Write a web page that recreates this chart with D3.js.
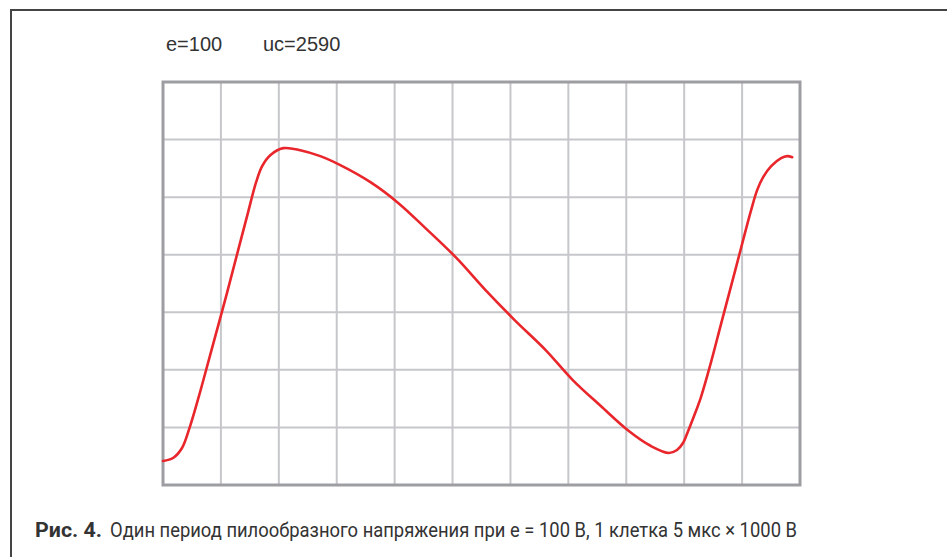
<!DOCTYPE html>
<html>
<head>
<meta charset="utf-8">
<script src="https://cdn.jsdelivr.net/npm/d3@7"></script>
<style>
  body { margin: 0; background: #fff; }
  svg { display: block; }
</style>
</head>
<body>
<svg width="947" height="557"></svg>
<script>
// time in microseconds (1 cell = 5 us), voltage in volts (1 cell = 1000 V)
var timeUs = [0, 0.87, 1.64, 2.34, 3.2, 4.07, 5.36, 6.49, 7.35, 8.04, 8.56, 9.26, 10.38, 11.85, 13.58, 15.31, 17.91, 20.33, 22.66, 25.35, 27.85, 30.36, 33.04, 35.38, 37.8, 40.22, 42.13, 43.69, 44.38, 44.9, 45.24, 45.85, 46.45, 47.32, 48.18, 49.48, 50.78, 51.3, 51.82, 52.51, 53.37, 53.89, 54.33];
var voltage = [417, 469, 642, 1024, 1615, 2257, 3212, 4080, 4740, 5260, 5538, 5729, 5851, 5816, 5712, 5556, 5260, 4896, 4462, 3941, 3385, 2865, 2344, 1823, 1372, 938, 677, 556, 608, 729, 887, 1198, 1528, 2135, 2795, 3785, 4774, 5122, 5347, 5538, 5677, 5712, 5694];
var xTicks = d3.range(0, 56, 5);
var yTicks = d3.range(0, 7001, 1000);
var header = ["e=100", "uc=2590"];
var captionBold = "Рис. 4.";
var captionText = "Один период пилообразного напряжения при е = 100 В, 1 клетка 5 мкс × 1000 В";

var svg = d3.select("svg"),
    margin = {top: 82, left: 163},
    width = 637,
    height = 403,
    chartGroup = svg.append("g").attr("transform", "translate(" + margin.left + "," + margin.top + ")");

// page frame
svg.append("path")
  .attr("d", "M11,557 V10 H947")
  .attr("fill", "none")
  .attr("stroke", "#444")
  .attr("stroke-width", 2);

var xScale = d3.scaleLinear().domain([0, 55]).range([0, width]);
var yScale = d3.scaleLinear().domain([0, 7000]).range([height, 0]);

// grid
chartGroup.selectAll(".vgrid")
  .data(xTicks.slice(1))
  .enter().append("line")
    .attr("x1", function(d) { return xScale(d); })
    .attr("x2", function(d) { return xScale(d); })
    .attr("y1", 0).attr("y2", height)
    .attr("stroke", "#c6c7cb")
    .attr("stroke-width", 2);

chartGroup.selectAll(".hgrid")
  .data(yTicks.slice(1, -1))
  .enter().append("line")
    .attr("y1", function(d) { return yScale(d); })
    .attr("y2", function(d) { return yScale(d); })
    .attr("x1", 0).attr("x2", width)
    .attr("stroke", "#c6c7cb")
    .attr("stroke-width", 2);

chartGroup.append("rect")
  .attr("width", width).attr("height", height)
  .attr("fill", "none")
  .attr("stroke", "#9d9ea2")
  .attr("stroke-width", 3);

// curve
var data = timeUs.map(function(t, i) { return {t: t, v: voltage[i]}; });

var line = d3.line()
  .curve(d3.curveCatmullRom.alpha(0.5))
  .x(function(d) { return xScale(d.t); })
  .y(function(d) { return yScale(d.v); });

chartGroup.append("path")
  .datum(data)
  .attr("d", line)
  .attr("fill", "none")
  .attr("stroke", "#e8262b")
  .attr("stroke-width", 2.6)
  .attr("stroke-linecap", "round");

// header
svg.selectAll(".hdr")
  .data(header)
  .enter().append("text")
    .attr("x", function(d, i) { return i ? 263 : 166; })
    .attr("y", 51)
    .style("font", "20px 'Liberation Sans', Arial, sans-serif")
    .attr("fill", "#333")
    .text(function(d) { return d; });

// caption
svg.append("text")
  .attr("x", 35).attr("y", 537)
  .attr("textLength", 67).attr("lengthAdjust", "spacingAndGlyphs")
  .style("font", "bold 21px Roboto, sans-serif")
  .attr("fill", "#333")
  .text(captionBold);

svg.append("text")
  .attr("x", 110).attr("y", 537)
  .attr("textLength", 687).attr("lengthAdjust", "spacingAndGlyphs")
  .style("font", "21px Roboto, sans-serif")
  .attr("fill", "#333")
  .text(captionText);
</script>
</body>
</html>
